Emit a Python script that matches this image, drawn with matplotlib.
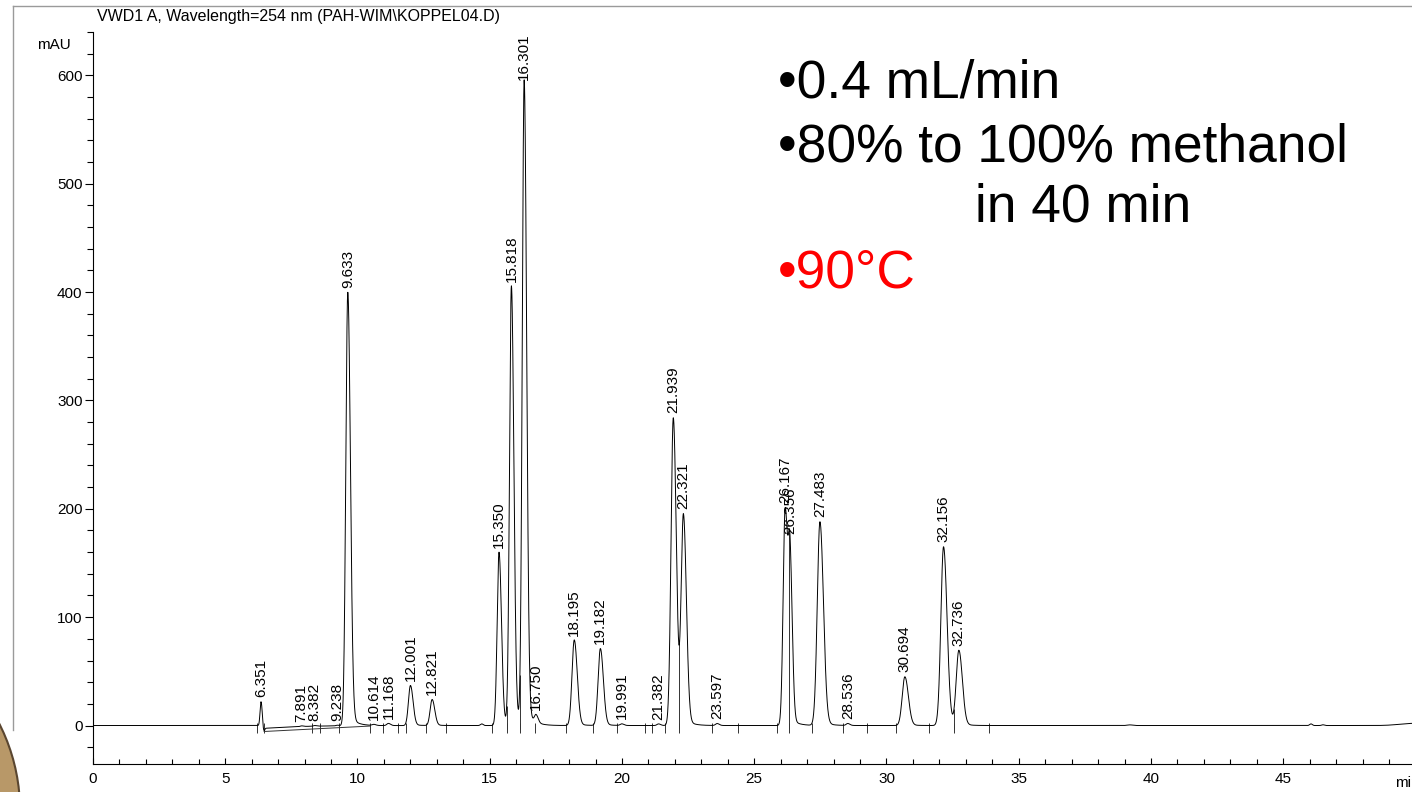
import numpy as np
import matplotlib
matplotlib.use("Agg")
import matplotlib.pyplot as plt
from matplotlib.lines import Line2D
from matplotlib.patches import Circle
from matplotlib.ticker import MultipleLocator

plt.rcParams['font.family'] = ['Liberation Sans', 'DejaVu Sans']

# ---------------- data ----------------
# labelled peaks: retention time (min), component height (mAU), left sigma (min)
peak_times = [6.351, 7.891, 8.382, 9.238, 9.633, 10.614, 11.168, 12.001, 12.821,
              15.350, 15.818, 16.301, 16.750, 18.195, 19.182, 19.991, 21.382,
              21.939, 22.321, 23.597, 26.167, 26.356, 27.483, 28.536, 30.694,
              32.156, 32.736]
peak_heights = [22.0, 0.6, 0.6, 0.6, 400.0, 1.0, 2.0, 37.0, 24.0,
                160.0, 405.0, 594.0, 7.0, 79.0, 71.0, 1.5, 1.5,
                284.0, 193.0, 1.8, 199.0, 140.0, 188.0, 1.8, 45.0,
                165.0, 69.0]
peak_sigmas = [0.035, 0.05, 0.05, 0.05, 0.075, 0.06, 0.06, 0.075, 0.075,
               0.07, 0.07, 0.07, 0.06, 0.085, 0.085, 0.06, 0.06,
               0.085, 0.085, 0.06, 0.075, 0.065, 0.10, 0.06, 0.10,
               0.10, 0.10]

# unlabelled baseline features (dip after injection peak, small bumps, end drift)
extra_times = [6.45, 14.70, 39.20, 46.05, 46.50, 49.90]
extra_heights = [-6.0, 1.5, 0.6, 1.5, 0.7, 2.0]
extra_sigmas = [0.03, 0.05, 0.10, 0.05, 0.05, 0.50]
extra_tails = [0.5, 0.0, 0.0, 0.0, 0.0, 0.0]
extra_taus = [1.2, 0.3, 0.3, 0.3, 0.3, 0.3]

# integration events (baseline tick marks) and valley drop lines
event_times = [6.19, 6.47, 8.29, 8.58, 9.31, 10.47, 10.95, 11.52, 11.83, 12.59,
               13.35, 15.08, 15.64, 16.14, 16.70, 17.88, 18.90, 19.80, 20.87,
               21.13, 21.62, 22.15, 23.40, 24.40, 25.86, 26.30, 27.18, 28.35,
               29.26, 30.36, 31.60, 32.55, 33.87]
drop_times = [15.64, 16.14, 22.15, 26.30, 32.55]
base_seg_t = [6.47, 10.47]
base_seg_y = [-5.5, -0.5]

x_ticks = [0, 5, 10, 15, 20, 25, 30, 35, 40, 45]
y_ticks = [0, 100, 200, 300, 400, 500, 600]

title_text = "VWD1 A, Wavelength=254 nm (PAH-WIM\\KOPPEL04.D)"
note_lines = ["\u20220.4 mL/min", "\u202280% to 100% methanol", "in 40 min"]
note_red = "\u202290\u00b0C"

# ---------------- build trace ----------------
t = np.linspace(0, 50, 25001)


def peak(tt, t0, h, s, tf=0.03, tau=0.25, asym=1.3):
    d = tt - t0
    sig = np.where(d < 0, s, s * asym)
    y = h * np.exp(-0.5 * (d / sig) ** 2)
    pos = np.clip(d, 0, None)
    y += np.where(d > 0, tf * h * (1 - np.exp(-(pos / s) ** 2)) * np.exp(-pos / tau), 0.0)
    return y


signal = np.zeros_like(t)
for t0, h, s in zip(peak_times, peak_heights, peak_sigmas):
    signal += peak(t, t0, h, s)
for t0, h, s, tf, tau in zip(extra_times, extra_heights, extra_sigmas, extra_tails, extra_taus):
    signal += peak(t, t0, h, s, tf=tf, tau=tau, asym=1.0)

# ---------------- figure ----------------
W, H = 1412, 792
fig = plt.figure(figsize=(W / 100, H / 100), dpi=100)
ax = fig.add_axes([93 / W, 1 - 764 / H, (1415.5 - 93) / W, (764 - 32) / H])
ax.set_xlim(0, 50)
ax.set_ylim(-35.5, 640)

ax.plot(t, signal, color='black', lw=0.7, zorder=3)

# integration baseline segment and event marks
ax.plot(base_seg_t, base_seg_y, color='#333333', lw=0.7, zorder=2)
ax.vlines(event_times, -7, 2.5, color='#333333', lw=0.7, zorder=2)
for td in drop_times:
    yv = np.interp(td, t, signal)
    ax.vlines(td, -3, yv, color='#333333', lw=0.7, zorder=2)

# peak labels (placed at the signal value at each retention time)
label_max = 596
for t0 in peak_times:
    apex = float(np.interp(t0, t, signal))
    ly = min(apex + 4, label_max)
    ax.text(t0, ly, f"{t0:.3f}", rotation=90, ha='center', va='bottom',
            fontsize=11, color='black', zorder=4)

# axes styling
for side in ['top', 'right']:
    ax.spines[side].set_visible(False)
ax.spines['left'].set_linewidth(0.8)
ax.spines['bottom'].set_linewidth(0.8)
ax.set_xticks(x_ticks)
ax.set_yticks(y_ticks)
ax.xaxis.set_minor_locator(MultipleLocator(1))
ax.yaxis.set_minor_locator(MultipleLocator(20))
ax.tick_params(axis='x', which='major', direction='in', length=4.5, width=0.8,
               labelsize=11, pad=6)
ax.tick_params(axis='x', which='minor', direction='in', length=3.8, width=0.8)
ax.tick_params(axis='y', which='major', direction='out', length=6, width=0.8,
               labelsize=11, pad=1.5)
ax.tick_params(axis='y', which='minor', direction='out', length=4.5, width=0.8)
ax.patch.set_alpha(0)

# texts
fig.text(37 / W, 1 - 45 / H, "mAU", ha='left', va='center', fontsize=11)
fig.text(97 / W, 1 - 16 / H, title_text, ha='left', va='center', fontsize=11.5)
fig.text(1395 / W, 1 - 783 / H, "min", ha='left', va='center', fontsize=11)

fig.text(778 / W, 1 - 97 / H, note_lines[0], ha='left', va='baseline', fontsize=38.3)
fig.text(778 / W, 1 - 162 / H, note_lines[1], ha='left', va='baseline', fontsize=38.3)
fig.text(975 / W, 1 - 222 / H, note_lines[2], ha='left', va='baseline', fontsize=38.3)
fig.text(778 / W, 1 - 287 / H, note_red, ha='left', va='baseline', fontsize=38.3,
         color='#ff0000')

# frame lines of the pasted chromatogram and slide decoration
fig.add_artist(Line2D([13 / W, 1.0], [1 - 6 / H, 1 - 6 / H], transform=fig.transFigure,
                      color='#9a9a9a', lw=1.0))
fig.add_artist(Line2D([13 / W, 13 / W], [1 - 6 / H, 1 - 730 / H], transform=fig.transFigure,
                      color='#9a9a9a', lw=1.0))
circ = Circle((-170, H - 810), 190, transform=None, facecolor='#b89868',
              edgecolor='#5a4630', lw=1.5)
fig.add_artist(circ)

fig.savefig("out.png", dpi=100)
